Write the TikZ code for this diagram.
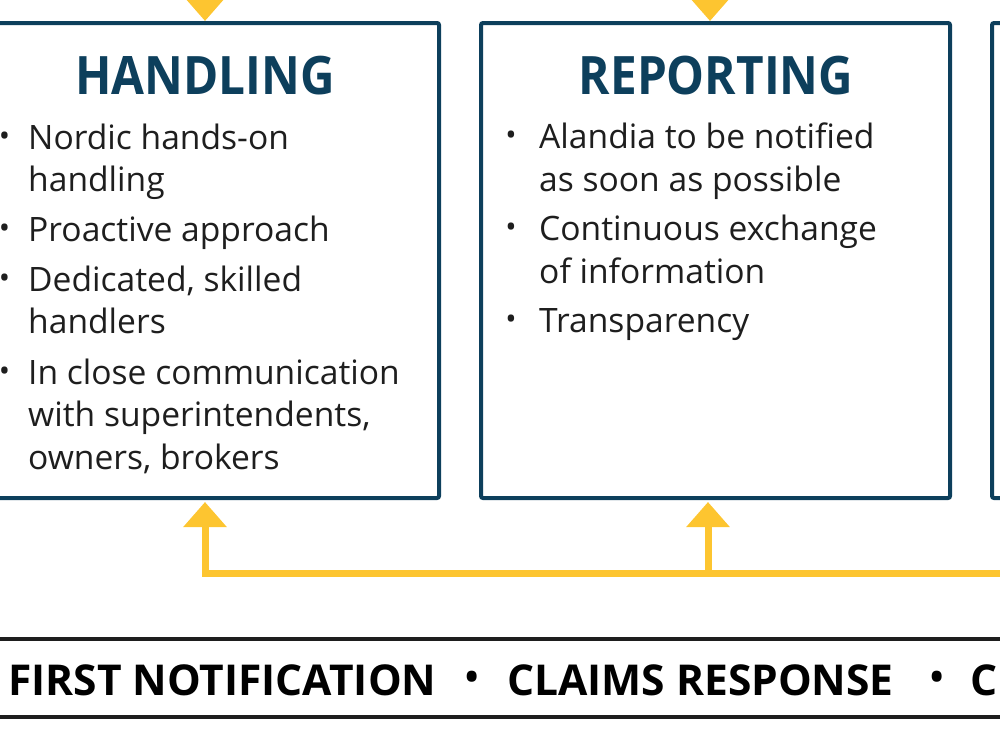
\documentclass[tikz,border=0pt]{standalone}
\usepackage{fontspec}
\setmainfont{Open Sans}
\newfontfamily\headfont[FakeStretch=0.9]{Open Sans}
\usetikzlibrary{arrows.meta}
\definecolor{navy}{HTML}{0D3F5C}
\definecolor{gold}{HTML}{FDC530}
\definecolor{ink}{HTML}{1E1E1E}
\tikzset{
  panel/.style={draw=navy, line width=4pt, rounded corners=2pt, fill=white},
  paneltitle/.style={text=navy, font=\headfont\fontsize{53}{60}\selectfont\bfseries, anchor=base, inner sep=0pt},
  bodytext/.style={text=ink, font=\fontsize{33.6}{40}\selectfont, anchor=base west, inner sep=0pt},
  listdot/.style={text=ink, font=\fontsize{30}{34}\selectfont, inner sep=0pt},
  flow/.style={draw=gold, line width=7pt},
  flowtip/.style={-{Triangle[width=42pt,length=25pt]}},
  bandline/.style={draw=ink, line width=4pt},
  bandtext/.style={text=black, font=\fontsize{42.5}{48}\selectfont\bfseries, anchor=base west, inner sep=0pt},
  banddot/.style={text=black, font=\fontsize{46}{50}\selectfont, inner sep=0pt}
}
\begin{document}
\begin{tikzpicture}[x=1pt, y=-1pt]
\useasboundingbox (0,0) rectangle (1000,750);

% panels
\node[panel, minimum width=469pt, minimum height=475pt] (handling) at (204.5,260.5) {};
\node[panel, minimum width=469pt, minimum height=475pt] (reporting) at (715.5,260.5) {};
\node[panel, minimum width=469pt, minimum height=475pt] (third) at (1226.5,260.5) {};

% titles
\node[paneltitle] (htitle) at (205,94) {HANDLING};
\node[paneltitle] (rtitle) at (716,94) {REPORTING};

% handling items
\node[listdot] (hd1) at (4.5,139) {•};
\node[bodytext] (h1a) at (28,149) {Nordic hands-on};
\node[bodytext] (h1b) at (28,191.5) {handling};
\node[listdot] (hd2) at (4.5,231) {•};
\node[bodytext] (h2a) at (28,241) {Proactive approach};
\node[listdot] (hd3) at (4.5,281) {•};
\node[bodytext] (h3a) at (28,291) {Dedicated, skilled};
\node[bodytext] (h3b) at (28,333.5) {handlers};
\node[listdot] (hd4) at (4.5,374) {•};
\node[bodytext] (h4a) at (28,384) {In close communication};
\node[bodytext] (h4b) at (28,426.5) {with superintendents,};
\node[bodytext] (h4c) at (28,469) {owners, brokers};

% reporting items
\node[listdot] (rd1) at (511,138.5) {•};
\node[bodytext] (r1a) at (539,148.5) {Alandia to be notified};
\node[bodytext] (r1b) at (539,191) {as soon as possible};
\node[listdot] (rd2) at (511,230.5) {•};
\node[bodytext] (r2a) at (539,240.5) {Continuous exchange};
\node[bodytext] (r2b) at (539,283) {of information};
\node[listdot] (rd3) at (511,322) {•};
\node[bodytext] (r3a) at (539,332) {Transparency};

% incoming arrows from above
\coordinate (inh) at (205,-60);
\coordinate (inr) at (710,-60);
\draw[flow, flowtip] (inh) -- (inh |- handling.north);
\draw[flow, flowtip] (inr) -- (inr |- reporting.north);

% feedback bus
\coordinate (bus) at (1020,573);
\coordinate (jr) at (708,573);
\coordinate (jh) at (205,573);
\draw[flow, flowtip, shorten >=2pt] (bus) -- (jh) -- (jh |- handling.south);
\draw[flow, flowtip, shorten >=2pt] (jr) -- (jr |- reporting.south);

% bottom band
\coordinate (bandtl) at (-10,639);
\coordinate (bandtr) at (1010,639);
\coordinate (bandbl) at (-10,717);
\coordinate (bandbr) at (1010,717);
\draw[bandline] (bandtl) -- (bandtr);
\draw[bandline] (bandbl) -- (bandbr);
\node[bandtext] (b1) at (8,695) {FIRST NOTIFICATION};
\node[banddot] (bd1) at (472,682) {•};
\node[bandtext] (b2) at (507,695) {CLAIMS RESPONSE};
\node[banddot] (bd2) at (937,682) {•};
\node[bandtext] (b3) at (970,695) {C};
\end{tikzpicture}
\end{document}
